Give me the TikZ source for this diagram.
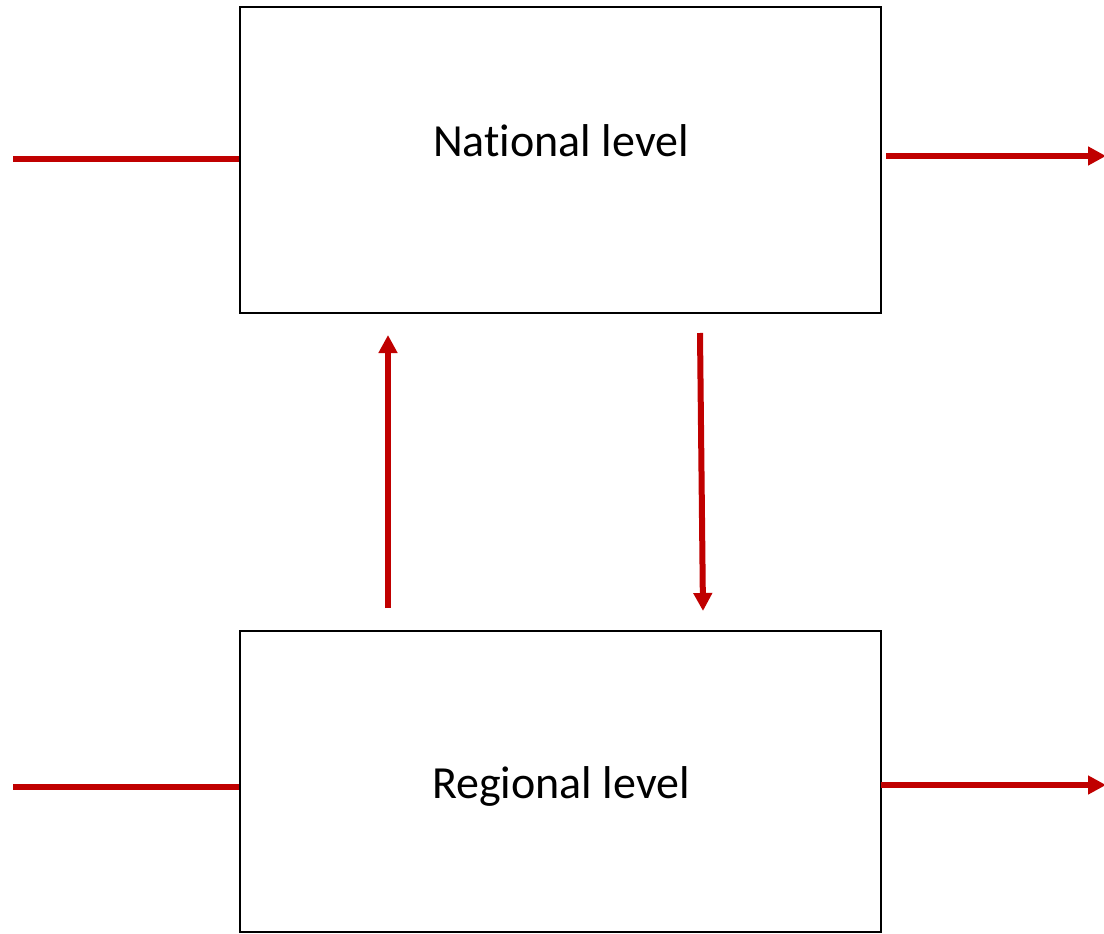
\documentclass[tikz,border=0pt]{standalone}
\usepackage{fontspec}
\setmainfont{Carlito}[Ligatures=NoCommon]
\usetikzlibrary{arrows.meta}
\definecolor{flowred}{HTML}{C00000}
\begin{document}
\begin{tikzpicture}[x=1pt,y=-1pt,
  levelbox/.style={draw=black,line width=2pt,minimum width=641pt,inner sep=0pt},
  lbl/.style={font=\fontsize{46}{54}\selectfont,inner sep=0pt},
  flow/.style={draw=flowred,line width=6pt},
  flowarrow/.style={flow,-{Triangle[length=18pt,width=18pt]}}]
\useasboundingbox (0,0) rectangle (1104,934);
\node[levelbox,minimum height=306pt] (nat) at (560.5,160) {};
\node[levelbox,minimum height=301pt] (reg) at (560.5,781.5) {};
\node[lbl] (natl) at (561,141) {National level};
\node[lbl] (regl) at (561,786) {Regional level};
\coordinate (inA) at (13,159);
\coordinate (inB) at (13,787);
\coordinate (outAs) at (886,156);
\coordinate (outA) at (1106,156);
\coordinate (outBs) at (881,785);
\coordinate (outB) at (1106,785);
\coordinate (upS) at (388,608);
\coordinate (upE) at (388,335);
\coordinate (dnS) at (700,333);
\coordinate (dnE) at (703,611);
\draw[flow] (inA) -- (inA -| nat.west);
\draw[flow] (inB) -- (inB -| reg.west);
\draw[flowarrow] (outAs) -- (outA);
\draw[flowarrow] (outBs) -- (outB);
\draw[flowarrow] (upS) -- (upE);
\draw[flowarrow] (dnS) -- (dnE);
\end{tikzpicture}
\end{document}
